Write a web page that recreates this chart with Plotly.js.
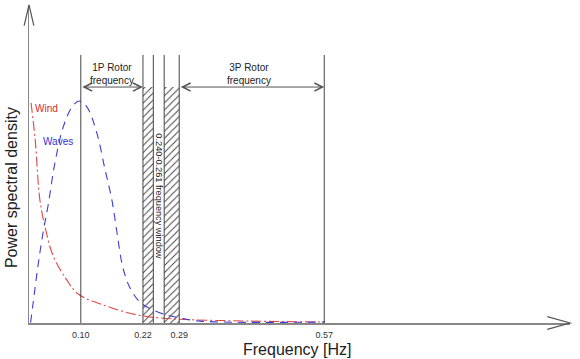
<!DOCTYPE html>
<html>
<head>
<meta charset="utf-8">
<script src="https://cdn.plot.ly/plotly-3.0.1.min.js"></script>
<style>html,body{margin:0;padding:0;background:#fff}#chart{width:580px;height:359px}</style>
</head>
<body>
<div id="chart"></div>
<script>
// ---- data (arbitrary PSD units) ----
const windFreq  = [0.004, 0.012, 0.021, 0.031, 0.046, 0.073, 0.095, 0.143, 0.210, 0.278, 0.427, 0.571];
const windPsd   = [6.92, 5.75, 3.87, 3.02, 2.14, 1.35, 0.91, 0.57, 0.25, 0.13, 0.06, 0.03];

const wavesFreq = [0.003, 0.008, 0.017, 0.027, 0.037, 0.050, 0.066, 0.083, 0.097, 0.112, 0.131, 0.147, 0.160, 0.170, 0.181, 0.195, 0.214, 0.239, 0.266, 0.292, 0.330, 0.571];
const wavesPsd  = [0.01, 0.63, 1.76, 2.83, 3.71, 5.03, 6.16, 6.79, 6.98, 6.79, 5.97, 4.81, 3.87, 2.83, 1.76, 1.10, 0.66, 0.41, 0.25, 0.16, 0.06, 0.03];

const tickValues = [0.10, 0.22, 0.29, 0.57];
const tickLabels = ['0.10', '0.22', '0.29', '0.57'];

const markerFreqs = [0.10, 0.22, 0.24, 0.261, 0.29, 0.57];
const bandStarts = [0.22, 0.261];
const bandEnds   = [0.24, 0.29];
const onePRange   = [0.10, 0.22];
const threePRange = [0.29, 0.57];

// ---- layout constants ----
const lineTop = 8.43;
const arrowY = 7.42;
const font = '"Liberation Sans", Arial, sans-serif';

const traces = [
  {
    type: 'bar',
    x: bandStarts.map((s, i) => (s + bandEnds[i]) / 2),
    width: bandStarts.map((s, i) => bandEnds[i] - s),
    y: bandStarts.map(() => arrowY),
    marker: {
      color: 'white',
      line: {width: 0},
      pattern: {shape: '/', fgcolor: '#444', bgcolor: 'white', size: 5, solidity: 0.2}
    },
    hoverinfo: 'skip', showlegend: false
  },
  {
    type: 'scatter', mode: 'lines', name: 'Wind',
    x: windFreq, y: windPsd,
    line: {color: 'rgb(228,70,70)', width: 1.1, dash: '10px,3px,2px,3px', shape: 'spline'},
    showlegend: false
  },
  {
    type: 'scatter', mode: 'lines', name: 'Waves',
    x: wavesFreq, y: wavesPsd,
    line: {color: 'rgb(60,60,215)', width: 1.1, dash: '8px,6px', shape: 'spline'},
    showlegend: false
  }
];

const shapes = markerFreqs.map(f => ({
  type: 'line', xref: 'x', yref: 'y', x0: f, x1: f, y0: 0, y1: lineTop,
  line: {color: '#444', width: 1}
}));
// axis arrowheads (paper coords)
shapes.push({type: 'path', xref: 'paper', yref: 'paper',
  path: 'M0.958,0.02 L1,0 L0.958,-0.02', line: {color: '#555', width: 1.2}});
shapes.push({type: 'path', xref: 'paper', yref: 'paper',
  path: 'M-0.009,0.935 L0,1 L0.009,0.935', line: {color: '#555', width: 1.2}});

const annotations = [
  {x: onePRange[1], y: arrowY, ax: onePRange[0], ay: arrowY, xref: 'x', yref: 'y', axref: 'x', ayref: 'y',
   text: '', showarrow: true, arrowhead: 5, startarrowhead: 5, arrowside: 'end+start',
   arrowsize: 1.6, startarrowsize: 1.6, arrowwidth: 1, arrowcolor: '#555'},
  {x: threePRange[1], y: arrowY, ax: threePRange[0], ay: arrowY, xref: 'x', yref: 'y', axref: 'x', ayref: 'y',
   text: '', showarrow: true, arrowhead: 5, startarrowhead: 5, arrowside: 'end+start',
   arrowsize: 1.6, startarrowsize: 1.6, arrowwidth: 1, arrowcolor: '#555'},
  {x: (onePRange[0] + onePRange[1]) / 2, y: arrowY, xref: 'x', yref: 'y', yanchor: 'bottom', yshift: -1,
   text: '1P Rotor<br>frequency', showarrow: false, font: {family: font, size: 10, color: '#222'}},
  {x: (threePRange[0] + threePRange[1]) / 2 - 0.005, y: arrowY, xref: 'x', yref: 'y', yanchor: 'bottom', yshift: -1,
   text: '3P Rotor<br>frequency', showarrow: false, font: {family: font, size: 10, color: '#222'}},
  {x: (bandEnds[0] + bandStarts[1]) / 2, y: 3.99, xref: 'x', yref: 'y', textangle: 90,
   xanchor: 'center', yanchor: 'middle', borderpad: 0,
   text: '0.240-0.261 frequency window', showarrow: false, font: {family: font, size: 9.2, color: '#222'}},
  {x: 0.007, y: 6.76, xref: 'x', yref: 'y', xanchor: 'left', yanchor: 'middle', text: 'Wind', showarrow: false,
   font: {family: font, size: 10, color: 'rgb(220,40,40)'}},
  {x: 0.023, y: 5.72, xref: 'x', yref: 'y', xanchor: 'left', yanchor: 'middle', text: 'Waves', showarrow: false,
   font: {family: font, size: 10, color: 'rgb(50,50,210)'}},
  {x: 0.495, y: -0.082, xref: 'paper', yref: 'paper', xanchor: 'center', yanchor: 'middle',
   text: 'Frequency [Hz]', showarrow: false, font: {family: font, size: 16, color: '#222'}},
  {x: -0.031, y: 0.425, xref: 'paper', yref: 'paper', xanchor: 'center', yanchor: 'middle',
   text: 'Power spectral density', textangle: -90,
   showarrow: false, font: {family: font, size: 16, color: '#222'}}
];

const layout = {
  width: 580, height: 359,
  margin: {l: 29, r: 10, t: 5, b: 36},
  paper_bgcolor: 'white', plot_bgcolor: 'white',
  showlegend: false,
  barmode: 'overlay',
  font: {family: font, color: '#222'},
  xaxis: {
    range: [0, 541 / 518], showgrid: false, zeroline: false,
    showline: true, linecolor: '#888', linewidth: 1.5,
    tickmode: 'array', tickvals: tickValues, ticktext: tickLabels,
    ticks: '', tickfont: {family: font, size: 9, color: '#333'}, ticklabelstandoff: 3
  },
  yaxis: {
    range: [0, 10], showgrid: false, zeroline: false,
    showline: true, linecolor: '#888', linewidth: 1.5,
    showticklabels: false, ticks: ''
  },
  shapes: shapes,
  annotations: annotations
};

Plotly.newPlot('chart', traces, layout, {staticPlot: true, displayModeBar: false});
</script>
</body>
</html>
